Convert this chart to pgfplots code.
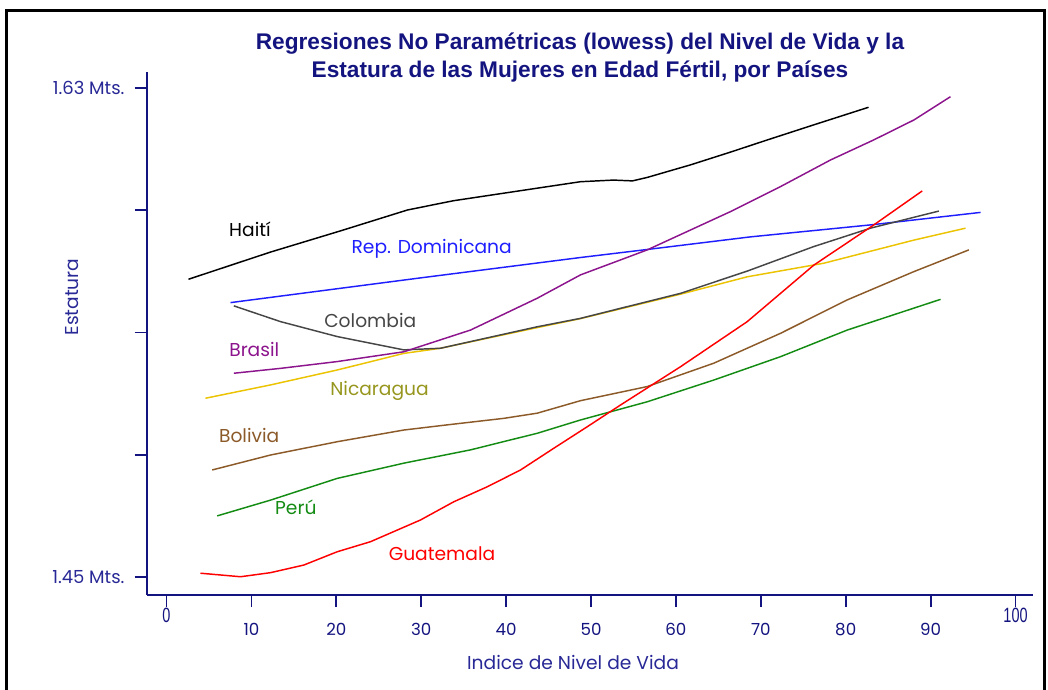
\documentclass[border=0pt]{standalone}
\usepackage{pgfplots}
\pgfplotsset{compat=1.18}
\usepackage{fontspec}
\setmainfont{Poppins}
\newfontfamily\titlefont{Liberation Sans}
\newfontfamily\narrowfont[FakeStretch=0.7]{Liberation Sans}
\definecolor{navy}{RGB}{20,20,128}
\definecolor{tickblue}{RGB}{40,40,150}
\definecolor{domblue}{RGB}{30,30,255}
\definecolor{colgray}{RGB}{70,70,70}
\definecolor{braspurple}{RGB}{140,20,140}
\definecolor{nicgold}{RGB}{235,195,0}
\definecolor{nicolive}{RGB}{150,150,30}
\definecolor{bolbrown}{RGB}{140,90,40}
\definecolor{perugreen}{RGB}{20,140,20}
\definecolor{guatred}{RGB}{255,0,0}

\pgfplotstableread{
x y
2.59 1.5596
12.25 1.5696
20.49 1.5774
28.39 1.5851
33.80 1.5885
41.70 1.5922
48.76 1.5955
52.65 1.5961
54.89 1.5958
56.65 1.5971
61.72 1.6017
66.43 1.6064
70.79 1.6109
76.21 1.6164
82.69 1.6229
}\haiti
\pgfplotstableread{
x y
7.54 1.5510
29.92 1.5601
48.76 1.5676
57.01 1.5707
68.79 1.5752
82.92 1.5796
95.88 1.5842
}\dominicana
\pgfplotstableread{
x y
7.93 1.5498
13.43 1.5440
20.11 1.5385
27.95 1.5336
32.27 1.5342
43.66 1.5421
48.76 1.5452
53.47 1.5489
60.54 1.5544
68.40 1.5626
76.21 1.5716
82.92 1.5784
90.97 1.5847
}\colombia
\pgfplotstableread{
x y
7.93 1.5250
13.43 1.5268
20.11 1.5293
27.95 1.5329
35.81 1.5409
43.66 1.5526
48.76 1.5612
56.62 1.5704
66.43 1.5845
72.32 1.5937
78.21 1.6035
83.31 1.6109
88.02 1.6182
92.34 1.6268
}\brasil
\pgfplotstableread{
x y
4.59 1.5158
12.25 1.5207
20.11 1.5262
27.95 1.5323
32.27 1.5342
43.66 1.5418
48.76 1.5451
53.47 1.5487
60.54 1.5541
68.40 1.5605
77.42 1.5655
88.02 1.5740
94.11 1.5784
}\nicaragua
\pgfplotstableread{
x y
5.38 1.4894
12.25 1.4949
20.11 1.4998
27.95 1.5041
33.06 1.5060
39.73 1.5084
43.66 1.5103
48.76 1.5149
56.62 1.5201
64.46 1.5287
72.32 1.5397
80.18 1.5520
88.02 1.5624
94.50 1.5704
}\bolivia
\pgfplotstableread{
x y
5.97 1.4725
12.25 1.4783
20.11 1.4863
27.95 1.4919
35.81 1.4968
43.66 1.5029
48.76 1.5078
56.62 1.5145
64.46 1.5225
72.32 1.5311
80.18 1.5409
91.17 1.5522
}\peru
\pgfplotstableread{
x y
4.00 1.4514
8.72 1.4501
12.25 1.4516
16.17 1.4544
20.11 1.4593
24.03 1.4630
29.92 1.4710
33.84 1.4777
37.77 1.4832
41.70 1.4894
45.62 1.4974
49.55 1.5053
53.47 1.5133
60.54 1.5274
68.40 1.5440
76.24 1.5648
83.31 1.5796
89.01 1.5921
}\guatemala

\begin{document}
\begin{tikzpicture}[x=0.75pt,y=-0.75pt]
\begin{axis}[
  at={(109.875pt,-445.875pt)}, anchor=south west,
  scale only axis, width=664.5pt, height=391.9pt,
  xmin=-2.356, xmax=102.0, ymin=1.44356, ymax=1.63589,
  axis x line*=bottom, axis y line*=left,
  axis line style={navy, line width=1.5pt, -},
  every tick/.style={navy, line width=1.3pt},
  tick align=outside, major tick length=9pt,
  xtick={0,100}, xticklabels={0,100},
  xticklabel style={font=\narrowfont\fontsize{15.5}{16}\selectfont, text=navy, inner sep=1pt},
  extra x ticks={10,20,30,40,50,60,70,80,90},
  extra x tick labels={10,20,30,40,50,60,70,80,90},
  extra x tick style={xticklabel style={font=\fontsize{12.5}{14}\selectfont, text=navy, yshift=-11pt}},
  ytick={1.45,1.495,1.54,1.585,1.63},
  yticklabels={1.45 Mts.,,,,1.63 Mts.},
  yticklabel style={font=\fontsize{13.5}{15}\selectfont, text=tickblue, xshift=-4pt},
  every axis plot/.append style={line width=1.1pt},
  clip=false,
]
\addplot[black] table {\haiti};
\addplot[domblue] table {\dominicana};
\addplot[nicgold] table {\nicaragua};
\addplot[colgray] table {\colombia};
\addplot[braspurple] table {\brasil};
\addplot[bolbrown] table {\bolivia};
\addplot[perugreen] table {\peru};
\addplot[guatred] table {\guatemala};
\end{axis}
\node[font=\titlefont\bfseries\fontsize{17}{20.5}\selectfont, text=navy, align=center] at (580,57.5) {Regresiones No Paramétricas (lowess) del Nivel de Vida y la\\Estatura de las Mujeres en Edad Fértil, por Países};
\node[font=\fontsize{14}{16}\selectfont, text=tickblue, rotate=90] at (72.5,297) {Estatura};
\node[font=\fontsize{14}{16}\selectfont, text=tickblue] at (573,662) {Indice de Nivel de Vida};
\begin{scope}[font=\fontsize{14}{16}\selectfont]
\node[text=black] at (250,229.7) {Haití};
\node[text=domblue] at (431.7,248.8) {Rep. Dominicana};
\node[text=colgray] at (370.3,320.5) {Colombia};
\node[text=braspurple] at (254.3,349.2) {Brasil};
\node[text=nicolive] at (379.5,390.8) {Nicaragua};
\node[text=bolbrown] at (249.2,435.8) {Bolivia};
\node[text=perugreen] at (295.8,507) {Perú};
\node[text=guatred] at (442,553.3) {Guatemala};
\end{scope}
\draw[black, line width=2.2pt] (6.5,720) -- (6.5,10.5) -- (1044.5,10.5) -- (1044.5,720);
\pgfresetboundingbox
\useasboundingbox (0,0) rectangle (1048,689);
\end{tikzpicture}
\end{document}
